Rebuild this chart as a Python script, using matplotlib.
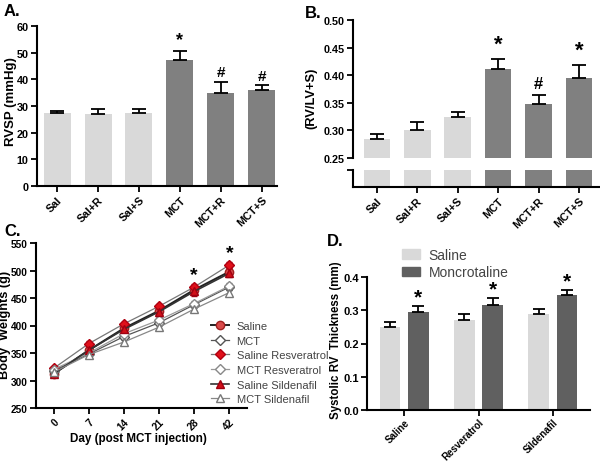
import matplotlib
matplotlib.use("Agg")
import matplotlib.pyplot as plt
from matplotlib.lines import Line2D
from matplotlib.patches import Patch
import numpy as np

plt.rcParams['font.family'] = ['Liberation Sans', 'DejaVu Sans']
plt.rcParams['font.weight'] = 'bold'
plt.rcParams['axes.labelweight'] = 'bold'

# ---- data ----
groups_ab = ["Sal", "Sal+R", "Sal+S", "MCT", "MCT+R", "MCT+S"]
rvsp = [27.5, 27.0, 27.2, 47.2, 34.7, 36.0]
rvsp_err = [0.8, 1.7, 1.5, 3.5, 4.3, 1.7]
rvsp_marks = ["", "", "", "*", "#", "#"]

rv_ratio = [0.284, 0.301, 0.325, 0.411, 0.348, 0.395]
rv_ratio_err = [0.010, 0.014, 0.008, 0.019, 0.016, 0.023]
rv_ratio_marks = ["", "", "", "*", "#", "*"]

days = ["0", "7", "14", "21", "28", "42"]
bw_series = {
    "Saline": [312, 355, 395, 427, 465, 498],
    "MCT": [318, 348, 380, 405, 438, 470],
    "Saline Resveratrol": [322, 367, 403, 435, 470, 510],
    "MCT Resveratrol": [320, 350, 385, 410, 440, 472],
    "Saline Sildenafil": [312, 355, 393, 425, 462, 495],
    "MCT Sildenafil": [315, 347, 370, 397, 430, 460],
}
bw_err = {
    "Saline": [3, 4, 4, 5, 6, 6],
    "MCT": [3, 3, 4, 4, 5, 5],
    "Saline Resveratrol": [3, 4, 4, 4, 5, 5],
    "MCT Resveratrol": [3, 3, 4, 4, 4, 5],
    "Saline Sildenafil": [3, 4, 5, 10, 8, 6],
    "MCT Sildenafil": [3, 3, 4, 4, 4, 4],
}
bw_star_days = ["28", "42"]

treatments = ["Saline", "Resveratrol", "Sildenafil"]
thick_saline = [0.250, 0.272, 0.290]
thick_saline_err = [0.015, 0.016, 0.015]
thick_mono = [0.295, 0.315, 0.345]
thick_mono_err = [0.018, 0.022, 0.017]

LIGHT = "#d9d9d9"
MID = "#808080"
DARK = "#606060"

W, H = 600, 464
fig = plt.figure(figsize=(6.0, 4.64), dpi=100)


def rect(left, top, right, bottom):
    return [left / W, 1 - bottom / H, (right - left) / W, (bottom - top) / H]


def style(ax, size=7.8):
    for s in ("top", "right"):
        ax.spines[s].set_visible(False)
    for s in ("left", "bottom"):
        ax.spines[s].set_linewidth(1.5)
    ax.tick_params(direction="out", width=1.3, length=4, labelsize=size, pad=2)
    for lab in ax.get_yticklabels():
        lab.set_fontweight("bold")


def rot_labels(ax, labels, size=7.8):
    ax.set_xticklabels(labels, rotation=45, ha="right", rotation_mode="anchor",
                       fontsize=size, fontweight="bold")


def place_ylabel(ax, text, px_right, py, size):
    # px_right: right edge of the rotated label, in pixels
    ax.set_ylabel(text, fontsize=size)
    ax.yaxis.set_label_coords(px_right / W, 1 - py / H, transform=fig.transFigure)


# ---- Panel A ----
axA = fig.add_axes(rect(37, 27, 277, 187))
x = np.arange(len(groups_ab))
colors = [LIGHT] * 3 + [MID] * 3
axA.bar(x, rvsp, width=0.66, color=colors)
axA.errorbar(x, rvsp, yerr=[np.zeros(len(x)), rvsp_err], fmt="none",
             ecolor="black", elinewidth=1.3, capsize=5, capthick=1.3)
for xi, v, e, m in zip(x, rvsp, rvsp_err, rvsp_marks):
    if m:
        axA.text(xi, v + e + 1.0, m, ha="center", va="bottom",
                 fontsize=13 if m == "*" else 11, fontweight="bold")
axA.set_ylim(0, 60)
axA.set_xlim(-0.49, 5.37)
axA.set_yticks(range(0, 61, 10))
axA.set_xticks(x)
style(axA)
rot_labels(axA, groups_ab)
place_ylabel(axA, "RVSP (mmHg)", 17, 102, 9.5)

# ---- Panel B (broken axis) ----
axB = fig.add_axes(rect(353, 21, 600, 159))
axB2 = fig.add_axes(rect(353, 171, 600, 188))
axB.bar(x, rv_ratio, width=0.66, color=colors)
axB.errorbar(x, rv_ratio, yerr=[np.zeros(len(x)), rv_ratio_err], fmt="none",
             ecolor="black", elinewidth=1.3, capsize=5, capthick=1.3)
for xi, v, e, m in zip(x, rv_ratio, rv_ratio_err, rv_ratio_marks):
    if m:
        axB.text(xi, v + e + 0.008, m, ha="center", va="bottom",
                 fontsize=16 if m == "*" else 12, fontweight="bold")
axB.set_ylim(0.25, 0.50)
axB.set_xlim(-0.59, 5.52)
axB.set_yticks(np.arange(0.25, 0.501, 0.05))
axB.set_yticklabels([f"{t:.2f}" for t in np.arange(0.25, 0.501, 0.05)])
axB.set_xticks([])
style(axB)
axB.spines["bottom"].set_visible(False)
place_ylabel(axB, "(RV/LV+S)", 317, 98, 9.3)

axB2.bar(x, [1] * len(x), width=0.66, color=colors)
axB2.set_ylim(0, 1)
axB2.set_xlim(-0.59, 5.52)
axB2.set_yticks([1])
axB2.set_yticklabels([""])
axB2.set_xticks(x)
style(axB2)
rot_labels(axB2, groups_ab)

# ---- Panel C ----
axC = fig.add_axes(rect(36, 244, 247, 409))
xd = np.arange(len(days))
styles = {
    "Saline": dict(marker="o", mfc="#d94c4c", mec="#a02020", color="#222222", lw=1.4),
    "MCT": dict(marker="D", mfc="white", mec="#555555", color="#555555", lw=0.9, ms=5),
    "Saline Resveratrol": dict(marker="D", mfc="#e0101a", mec="#b00010", color="#777777", lw=0.9, ms=5),
    "MCT Resveratrol": dict(marker="D", mfc="white", mec="#888888", color="#999999", lw=0.9, ms=5),
    "Saline Sildenafil": dict(marker="^", mfc="#d01018", mec="#a00010", color="#333333", lw=1.2),
    "MCT Sildenafil": dict(marker="^", mfc="white", mec="#777777", color="#888888", lw=0.9),
}
handles = []
for name, vals in bw_series.items():
    st = dict(styles[name])
    ms = st.pop("ms", 6)
    axC.errorbar(xd, vals, yerr=bw_err[name], ms=ms, capsize=2,
                 ecolor=st["mec"], elinewidth=0.8, **st)
    handles.append(Line2D([0], [0], ms=ms, **st))
for d in bw_star_days:
    i = days.index(d)
    top = max(v[i] + bw_err[n][i] for n, v in bw_series.items())
    axC.text(xd[i], top + 3, "*", ha="center", va="bottom",
             fontsize=14, fontweight="bold")
axC.set_ylim(250, 550)
axC.set_xlim(-0.5, 5.5)
axC.set_yticks(range(250, 551, 50))
axC.set_xticks(xd)
style(axC, size=7.3)
rot_labels(axC, days, size=7.3)
place_ylabel(axC, "Body  Weights (g)", 11, 325, 9.2)
axC.set_xlabel("Day (post MCT injection)", fontsize=8.4)
axC.xaxis.set_label_coords(138 / W, 1 - 433 / H, transform=fig.transFigure)
fig.legend(handles, list(bw_series.keys()), loc="upper left",
           bbox_to_anchor=(211 / W, 1 - 322 / H), frameon=False,
           prop=dict(size=8, weight="normal"), labelcolor="#444444",
           handlelength=1.6, handletextpad=0.7, labelspacing=0.42,
           borderpad=0, borderaxespad=0)

# ---- Panel D ----
axD = fig.add_axes(rect(367, 278, 590, 411))
xt = np.arange(len(treatments))
off, bw = 0.19, 0.28
axD.bar(xt - off, thick_saline, width=bw, color=LIGHT)
axD.bar(xt + off, thick_mono, width=bw, color=DARK)
axD.errorbar(xt - off, thick_saline, yerr=[np.zeros(3), thick_saline_err], fmt="none",
             ecolor="black", elinewidth=1.3, capsize=4, capthick=1.3)
axD.errorbar(xt + off, thick_mono, yerr=[np.zeros(3), thick_mono_err], fmt="none",
             ecolor="black", elinewidth=1.3, capsize=4, capthick=1.3)
for xi, v, e in zip(xt, thick_mono, thick_mono_err):
    axD.text(xi + off, v + e - 0.002, "*", ha="center", va="bottom",
             fontsize=15, fontweight="bold")
axD.set_ylim(0, 0.4)
axD.set_xlim(-0.5, 2.5)
axD.set_yticks(np.arange(0, 0.41, 0.1))
axD.set_yticklabels([f"{t:.1f}" for t in np.arange(0, 0.41, 0.1)])
axD.set_xticks(xt)
style(axD, size=8)
axD.tick_params(axis="x", pad=1)
rot_labels(axD, treatments, size=7.0)
place_ylabel(axD, "Systolic RV  Thickness (mm)", 342, 340, 8.3)
fig.legend([Patch(color=LIGHT), Patch(color=DARK)], ["Saline", "Moncrotaline"],
           loc="upper left", bbox_to_anchor=(402 / W, 1 - 249 / H), frameon=False,
           prop=dict(size=10, weight="normal"), labelcolor="#444444",
           handlelength=1.3, handleheight=0.7, handletextpad=0.6,
           labelspacing=0.25, borderpad=0, borderaxespad=0)

# ---- panel letters ----
for lab, px, py in [("A.", 4, 4), ("B.", 305, 6), ("C.", 4, 224), ("D.", 327, 234)]:
    fig.text(px / W, 1 - py / H, lab, fontsize=12, fontweight="bold", va="top")

fig.savefig("out.png", dpi=100)
